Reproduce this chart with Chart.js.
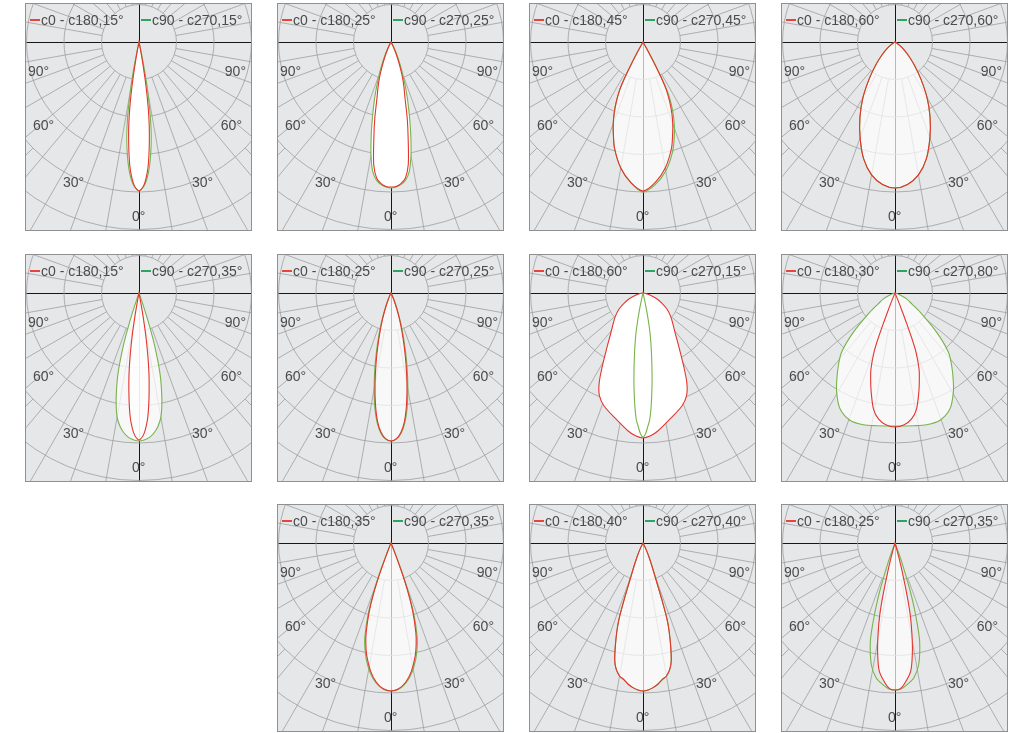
<!DOCTYPE html>
<html><head><meta charset="utf-8">
<script src="https://cdn.jsdelivr.net/npm/chart.js@4.4.1/dist/chart.umd.min.js"></script>
<style>
html,body{margin:0;padding:0;background:#fff;}
body{width:1023px;height:733px;overflow:hidden;position:relative;font-family:"Liberation Sans",Arial,Helvetica,sans-serif;}
.panel{position:absolute;width:227px;height:228px;overflow:hidden;background:#e6e7e9;}
.panel canvas{position:absolute;left:-111px;top:-186px;}
.frame{position:absolute;left:0;top:0;right:0;bottom:0;border:1px solid #8f9092;box-sizing:border-box;pointer-events:none;}
.lbl{position:absolute;font-size:14px;color:#4b4b4b;line-height:16px;white-space:nowrap;}
.leg{position:absolute;top:9px;font-size:14px;color:#4b4b4b;line-height:16px;white-space:nowrap;}
.mk{display:inline-block;width:10px;height:0;border-top:2px solid;vertical-align:middle;margin-right:1px;position:relative;top:-1px;}
</style></head>
<body>
<script>
// ---- legend / tick labels ----
const c0Labels  = ['c0 - c180,15°','c0 - c180,25°','c0 - c180,45°','c0 - c180,60°','c0 - c180,15°','c0 - c180,25°','c0 - c180,60°','c0 - c180,30°','c0 - c180,35°','c0 - c180,40°','c0 - c180,25°'];
const c90Labels = ['c90 - c270,15°','c90 - c270,25°','c90 - c270,45°','c90 - c270,60°','c90 - c270,35°','c90 - c270,25°','c90 - c270,15°','c90 - c270,80°','c90 - c270,35°','c90 - c270,40°','c90 - c270,35°'];
const angleTicks = ['90°','60°','30°','0°'];

// ---- luminous intensity, [gamma°, value] ; one ring = 37.5 units ----
const p1_c0  = [[0,149],[1,147],[2,143],[3,136],[4,127],[5,114],[6,99],[7,84],[8,66],[9,45],[10,22],[11,6],[12,0]];
const p1_c90 = [[0,149],[1,147],[2,144],[3,139],[4,132],[5,123],[6,112],[7,100],[8,86],[9,69],[10,50],[11,30],[12,12],[13,0]];
const p2_c0  = [[0,145],[2,144.5],[4,142],[6,137],[8,124],[10,99],[12,78],[14,58],[16,47],[18,37],[20,26],[22,17],[25,8],[28,2],[30,0]];
const p2_c90 = [[0,146],[2,145],[4,143],[6,139],[8,131],[10,115],[12,95],[14,76],[16,60],[18,46],[20,34],[22,24],[25,13],[28,5],[32,0]];
const p3_c0  = [[0,149],[5,141],[10,128],[15,110],[18,96],[20,87],[22,77],[24,66],[26,53],[27,42],[28,24],[29,8],[30,0]];
const p3_c90 = [[0,149],[5,141],[10,128],[15,110],[18,96],[20,87],[22,77],[24,66],[26,53],[27,42],[28,24],[29,8],[30,0]];
const p3_c270= [[0,150],[5,143],[10,131],[15,114],[18,101],[20,92],[22,82],[24,71],[26,58],[27,46],[28,27],[29,9],[30,0]];
const p4_c0  = [[0,146],[5,143],[10,135],[15,121],[20,102],[25,83],[30,64],[35,45],[40,30],[45,19],[50,11],[55,5],[60,1.5],[63,0]];
const p4_c90 = [[0,146],[5,143],[10,135],[15,121],[20,102],[25,83],[30,64],[35,45],[40,30],[45,19],[50,11],[55,5],[60,1.5],[63,0]];
const p5_c0  = [[0,147],[1,145],[2,141],[3,134],[4,125],[5,112],[6,97],[7,82],[8,64],[9,44],[10,22],[11,6],[12,0]];
const p5_c90 = [[0,148],[2,147],[4,145],[6,141],[8,135],[10,126],[12,110],[14,90],[15,78],[16,63],[17,47],[18,29],[19,12],[20,0]];
const p6_c0  = [[0,148],[2,146],[4,140],[6,129],[8,112],[10,92],[12,72],[14,54],[16,39],[18,27],[20,17],[23,7],[26,0]];
const p6_c90 = [[0,148],[2,146.5],[4,141],[6,131],[8,116],[10,97],[12,78],[14,60],[16,44],[18,31],[20,20],[23,9],[26,2],[28,0]];
const p7_c0  = [[0,145],[3,143],[6,139],[12,129],[19,119.5],[23,111.5],[26,100],[29,84],[33,67],[38,53],[44,43],[50,36],[56,29],[62,21],[68,14],[75,6],[82,1.5],[88,0]];
const p7_c90 = [[0,144],[1,141],[2,134],[3,127],[4,115],[5,101],[6,87],[7,73],[8,61],[9,50],[10,40],[11,27],[12,15],[13,5],[14,0]];
const p8_c0  = [[0,134],[4,132],[7.5,127],[10.5,118],[13.5,102],[15.5,91],[17.5,80],[19.5,63],[20.5,46],[21,30],[22,12],[23,3],[24,0]];
const p8_c90 = [[0,133],[8,134],[13.5,135.5],[19.5,135],[25.5,128],[30.5,115],[34,104],[38,92],[42,80],[46.5,58],[52.5,32],[57,20],[63,13],[70,5],[80,1],[85,0]];
const p9_c0  = [[0,148],[3,146],[6,140],[9,130],[12,116],[14,104],[15.5,93],[17.5,73],[19,53],[20,34],[21,14],[22,4],[23,0]];
const p9_c90 = [[0,148],[3,146.5],[6,141],[9,132],[12,119],[14,108],[15.5,98],[17.5,78],[19,58],[20.5,36],[21.5,16],[22.5,5],[24,0]];
const p10_c0 = [[0,148],[2,147],[4,145],[6,142],[8,138],[10,135],[12,129],[13.5,121],[15,107],[16.5,92],[17.5,80],[18.5,58],[19.5,39],[21,26],[23,16],[26,6],[29,0]];
const p10_c90= [[0,148],[2,147],[4,145],[6,142],[8,138],[10,135],[12,129],[13.5,121],[15,107],[16.5,92],[17.5,80],[18.5,58],[19.5,39],[21,26],[23,16],[26,6],[29,0]];
const p11_c0 = [[0,147],[2,146],[4,140.5],[7,129],[9,111],[10.5,93],[12,73],[13,52],[14,31],[15,15],[16,5],[17,0]];
const p11_c90= [[0,147],[2.5,146],[5,142],[8,136],[11,124],[14,102],[15.5,82],[17,60],[18,42],[19.5,21],[20.5,8],[21.5,0]];

// panel list: [c180 side (left) , c0 side (right)] for each plane
const panels = [
  {red:[p1_c0,p1_c0],  green:[p1_c90,p1_c90]},
  {red:[p2_c0,p2_c0],  green:[p2_c90,p2_c90]},
  {red:[p3_c0,p3_c0],  green:[p3_c90,p3_c270]},
  {red:[p4_c0,p4_c0],  green:[p4_c90,p4_c90]},
  {red:[p5_c0,p5_c0],  green:[p5_c90,p5_c90]},
  {red:[p6_c0,p6_c0],  green:[p6_c90,p6_c90]},
  {red:[p7_c0,p7_c0],  green:[p7_c90,p7_c90]},
  {red:[p8_c0,p8_c0],  green:[p8_c90,p8_c90]},
  {red:[p9_c0,p9_c0],  green:[p9_c90,p9_c90]},
  {red:[p10_c0,p10_c0],green:[p10_c90,p10_c90]},
  {red:[p11_c0,p11_c0],green:[p11_c90,p11_c90]}
];

// ---- layout / style (not data) ----
const slots = [[0,0],[1,0],[2,0],[3,0],[0,1],[1,1],[2,1],[3,1],[1,2],[2,2],[3,2]];
const colLeft = [25,277,529,781], rowTop = [3,254,504];
const SOFT = 'rgba(255,255,255,0.7)', SOLID = '#ffffff', NONE = 'rgba(0,0,0,0)';
const fills = [[SOLID,SOLID],[SOLID,SOLID],[SOFT,NONE],[SOFT,NONE],[SOFT,SOFT],[SOFT,NONE],[SOLID,NONE],[NONE,SOFT],[SOFT,NONE],[SOFT,NONE],[SOFT,NONE]];
const RED = '#e2352d', GREEN = '#78b34c', GRID = '#9d9ea0';
const STEPS = 720; // 0.5° per label
const RING = 37.5;

const angleLabels = Array.from({length: STEPS}, () => '');

function series(left, right) {
  const d = new Array(STEPS).fill(null);
  left.forEach(([g, v]) => { d[Math.round(g * 2) % STEPS] = v; });
  right.forEach(([g, v]) => { d[(STEPS - Math.round(g * 2)) % STEPS] = v; });
  return d;
}

const polarGrid = {
  id: 'polarGrid',
  beforeDraw(chart) {
    const s = chart.scales.r, ctx = chart.ctx;
    ctx.save();
    ctx.strokeStyle = GRID; ctx.lineWidth = 0.8;
    for (let a = 0; a < 360; a += 5) {
      const g = a <= 180 ? a : 360 - a;
      const major = a % 10 === 0;
      if (!major && (g < 40 || g > 90)) continue;
      if (g === 0 || g === 90 || g === 180) continue;
      const r0 = s.getDistanceFromCenterForValue(major ? RING : 4 * RING);
      const p0 = s.getPointPosition(a * 2, r0);
      const p1 = s.getPointPosition(a * 2, s.drawingArea * 1.5);
      ctx.beginPath(); ctx.moveTo(p0.x, p0.y); ctx.lineTo(p1.x, p1.y); ctx.stroke();
    }
    ctx.strokeStyle = '#161616'; ctx.lineWidth = 1;
    const cx = s.xCenter + 0.5, cy = s.yCenter + 0.5;
    ctx.beginPath();
    ctx.moveTo(0, cy); ctx.lineTo(chart.width, cy);
    ctx.moveTo(cx, 0); ctx.lineTo(cx, chart.height);
    ctx.stroke();
    ctx.restore();
  }
};

const tickPos = [
  {t:0, left:3,  top:60}, {t:0, right:6, top:60},
  {t:1, left:8,  top:114},{t:1, right:10, top:114},
  {t:2, left:38, top:171},{t:2, left:167, top:171},
  {t:3, left:107, top:205}
];

panels.forEach((p, i) => {
  const [c, r] = slots[i];
  const div = document.createElement('div');
  div.className = 'panel';
  div.style.left = colLeft[c] + 'px';
  div.style.top = rowTop[r] + 'px';
  const cv = document.createElement('canvas');
  cv.width = 450; cv.height = 450;
  cv.style.width = '450px'; cv.style.height = '450px';
  div.appendChild(cv);

  tickPos.forEach(tp => {
    const l = document.createElement('div');
    l.className = 'lbl';
    l.textContent = angleTicks[tp.t];
    if (tp.left !== undefined) l.style.left = tp.left + 'px';
    if (tp.right !== undefined) l.style.right = tp.right + 'px';
    l.style.top = tp.top + 'px';
    div.appendChild(l);
  });
  const lg1 = document.createElement('div');
  lg1.className = 'leg'; lg1.style.left = '5px';
  lg1.innerHTML = '<span class="mk" style="border-color:#e8443b"></span>' + c0Labels[i];
  const lg2 = document.createElement('div');
  lg2.className = 'leg'; lg2.style.left = '116px';
  lg2.innerHTML = '<span class="mk" style="border-color:#2ea55f"></span>' + c90Labels[i];
  div.appendChild(lg1); div.appendChild(lg2);
  const fr = document.createElement('div'); fr.className = 'frame'; div.appendChild(fr);
  document.body.appendChild(div);

  new Chart(cv, {
    type: 'radar',
    data: {
      labels: angleLabels,
      datasets: [
        {label: c0Labels[i], data: series(p.red[0], p.red[1]), borderColor: RED, backgroundColor: fills[i][0],
         fill: fills[i][0] === NONE ? false : 'origin', borderWidth: 1.1, pointRadius: 0, tension: 0.3, spanGaps: true},
        {label: c90Labels[i], data: series(p.green[0], p.green[1]), borderColor: GREEN, backgroundColor: fills[i][1],
         fill: fills[i][1] === NONE ? false : 'origin', borderWidth: 1.1, pointRadius: 0, tension: 0.3, spanGaps: true}
      ]
    },
    options: {
      responsive: false, animation: false, events: [],
      layout: {padding: 0},
      plugins: {legend: {display: false}, tooltip: {enabled: false}, filler: {drawTime: 'beforeDatasetsDraw'}},
      scales: {
        r: {
          min: 0, max: 225, startAngle: 180,
          ticks: {display: false, stepSize: RING},
          grid: {circular: true, color: GRID, lineWidth: 0.8},
          angleLines: {display: false},
          pointLabels: {display: false}
        }
      }
    },
    plugins: [polarGrid]
  });
});
</script>
</body></html>
